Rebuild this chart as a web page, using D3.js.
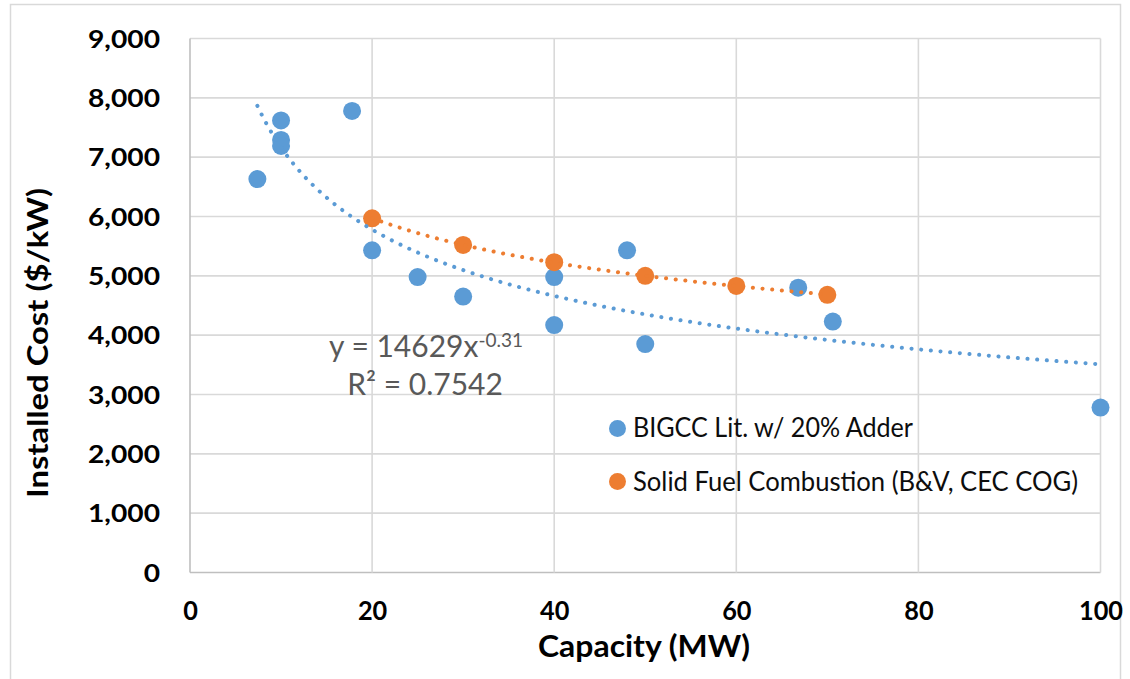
<!DOCTYPE html>
<html>
<head>
<meta charset="utf-8">
<script src="https://cdn.jsdelivr.net/npm/d3@7"></script>
<style>
  html, body { margin: 0; padding: 0; background: #fff; }
  svg { display: block; }
  text { font-family: Lato, "Open Sans", "Liberation Sans", sans-serif; }
</style>
</head>
<body>
<script>
// ---- data ----
const blueX = [7.4, 10, 10, 10, 17.8, 20, 25, 30, 40, 40, 48, 50, 66.8, 70.6, 100];
const blueY = [6630, 7620, 7290, 7190, 7780, 5430, 4980, 4650, 4980, 4170, 5430, 3850, 4800, 4230, 2780];
const orangeX = [20, 30, 40, 50, 60, 70];
const orangeY = [5970, 5520, 5230, 5000, 4830, 4680];
const seriesNames = ["BIGCC Lit. w/ 20% Adder", "Solid Fuel Combustion (B&V, CEC COG)"];
const xTicks = [0, 20, 40, 60, 80, 100];
const yTicks = [0, 1000, 2000, 3000, 4000, 5000, 6000, 7000, 8000, 9000];
const blueFit = { a: 14629, b: -0.31, r2: "0.7542" };

const W = 1130, H = 679;
const C_BLUE = "#5B9BD5", C_ORANGE = "#ED7D31";

const svg = d3.select("body").append("svg").attr("width", W).attr("height", H);

// outer chart border
svg.append("rect").attr("x", 10.5).attr("y", 4.5).attr("width", 1110).attr("height", 720)
  .attr("fill", "none").attr("stroke", "#d9d9d9").attr("stroke-width", 1.5);

const x = d3.scaleLinear().domain([0, 100]).range([190, 1100.5]);
const y = d3.scaleLinear().domain([0, 9000]).range([572.5, 38.5]);

// gridlines
const grid = svg.append("g");
grid.selectAll("line.h").data(yTicks).join("line").attr("class", "h")
  .attr("x1", x(0)).attr("x2", x(100)).attr("y1", d => y(d)).attr("y2", d => y(d))
  .attr("stroke", d => d === 0 ? "#bfbfbf" : "#d9d9d9").attr("stroke-width", 1.6);
grid.selectAll("line.v").data(xTicks).join("line").attr("class", "v")
  .attr("x1", d => x(d)).attr("x2", d => x(d)).attr("y1", y(0)).attr("y2", y(9000))
  .attr("stroke", d => d === 0 ? "#bfbfbf" : "#d9d9d9").attr("stroke-width", 1.6);

// tick labels via axes (no domain / tick lines)
const fmt = d3.format(",");
const yAx = svg.append("g").attr("transform", `translate(160,0)`)
  .call(d3.axisLeft(y).tickValues(yTicks).tickFormat(fmt).tickSize(0).tickPadding(0));
yAx.select(".domain").remove();
yAx.selectAll("text").attr("font-family", "Lato, sans-serif").attr("font-weight", "bold")
  .attr("font-size", 24).attr("fill", "#000").attr("dy", "0.36em");

const xAx = svg.append("g").attr("transform", `translate(0,600)`)
  .call(d3.axisBottom(x).tickValues(xTicks).tickFormat(d3.format("d")).tickSize(0).tickPadding(0));
xAx.select(".domain").remove();
xAx.selectAll("text").attr("font-family", "Lato, sans-serif").attr("font-weight", "bold")
  .attr("font-size", 27).attr("fill", "#000").attr("dy", "0.75em");

// stretch tick labels to match reference widths
function stretch(sel, refText, refWidth) {
  let base = null;
  sel.each(function () { if (this.textContent === refText) base = this.getComputedTextLength(); });
  if (!base) return;
  const k = refWidth / base;
  sel.each(function () {
    const w = this.getComputedTextLength();
    d3.select(this).attr("textLength", w * k).attr("lengthAdjust", "spacingAndGlyphs");
  });
}
stretch(yAx.selectAll("text"), "9,000", 72);
stretch(xAx.selectAll("text"), "100", 44);

// axis titles
svg.append("text").attr("x", 644).attr("y", 657).attr("text-anchor", "middle")
  .attr("font-weight", "bold").attr("font-size", 31).attr("fill", "#000")
  .attr("textLength", 212).attr("lengthAdjust", "spacingAndGlyphs")
  .text("Capacity (MW)");
svg.append("text").attr("transform", "translate(47.5,343) rotate(-90)").attr("text-anchor", "middle")
  .attr("font-weight", "bold").attr("font-size", 28).attr("fill", "#000")
  .attr("textLength", 310).attr("lengthAdjust", "spacingAndGlyphs")
  .text("Installed Cost ($/kW)");

// markers
const blue = blueX.map((v, i) => [v, blueY[i]]);
const orange = orangeX.map((v, i) => [v, orangeY[i]]);
svg.append("g").selectAll("circle").data(blue).join("circle")
  .attr("cx", d => x(d[0])).attr("cy", d => y(d[1])).attr("r", 9).attr("fill", C_BLUE);
svg.append("g").selectAll("circle").data(orange).join("circle")
  .attr("cx", d => x(d[0])).attr("cy", d => y(d[1])).attr("r", 9).attr("fill", C_ORANGE);

// power trendlines
function powerFit(xs, ys) {
  const lx = xs.map(Math.log), ly = ys.map(Math.log);
  const mx = d3.mean(lx), my = d3.mean(ly);
  let sxy = 0, sxx = 0;
  lx.forEach((v, i) => { sxy += (v - mx) * (ly[i] - my); sxx += (v - mx) * (v - mx); });
  const b = sxy / sxx;
  return { a: Math.exp(my - b * mx), b };
}
const orangeFit = powerFit(orangeX, orangeY);
function trend(fit, xs, color) {
  const [x0, x1] = d3.extent(xs);
  const pts = d3.range(0, 201).map(i => { const xv = x0 + (x1 - x0) * i / 200; return [xv, fit.a * Math.pow(xv, fit.b)]; });
  svg.append("path").datum(pts)
    .attr("d", d3.line().x(d => x(d[0])).y(d => y(d[1])))
    .attr("fill", "none").attr("stroke", color).attr("stroke-width", 4)
    .attr("stroke-linecap", "round").attr("stroke-dasharray", "0.1 9.6");
}
trend(blueFit, blueX, C_BLUE);
trend(orangeFit, orangeX, C_ORANGE);

// trendline label
const t1 = svg.append("text").attr("x", 426).attr("y", 356.5).attr("text-anchor", "middle")
  .attr("font-size", 30).attr("fill", "#595959");
t1.append("tspan").text(`y = ${blueFit.a}x`);
t1.append("tspan").attr("font-size", 19).attr("dy", -10).text(blueFit.b.toString().replace("0.", "0."));
svg.append("text").attr("x", 425).attr("y", 395).attr("text-anchor", "middle")
  .attr("font-size", 30).attr("fill", "#595959").text(`R² = ${blueFit.r2}`);

// legend
const legend = [
  { name: seriesNames[0], color: C_BLUE, cy: 428.5, base: 437, w: 280 },
  { name: seriesNames[1], color: C_ORANGE, cy: 481.5, base: 490.5, w: 445 }
];
const lg = svg.append("g");
lg.selectAll("circle").data(legend).join("circle")
  .attr("cx", 617.5).attr("cy", d => d.cy).attr("r", 8.5).attr("fill", d => d.color);
lg.selectAll("text").data(legend).join("text")
  .attr("x", 633).attr("y", d => d.base).attr("font-size", 26).attr("fill", "#0d0d0d")
  .attr("textLength", d => d.w).attr("lengthAdjust", "spacingAndGlyphs")
  .text(d => d.name);
</script>
</body>
</html>
